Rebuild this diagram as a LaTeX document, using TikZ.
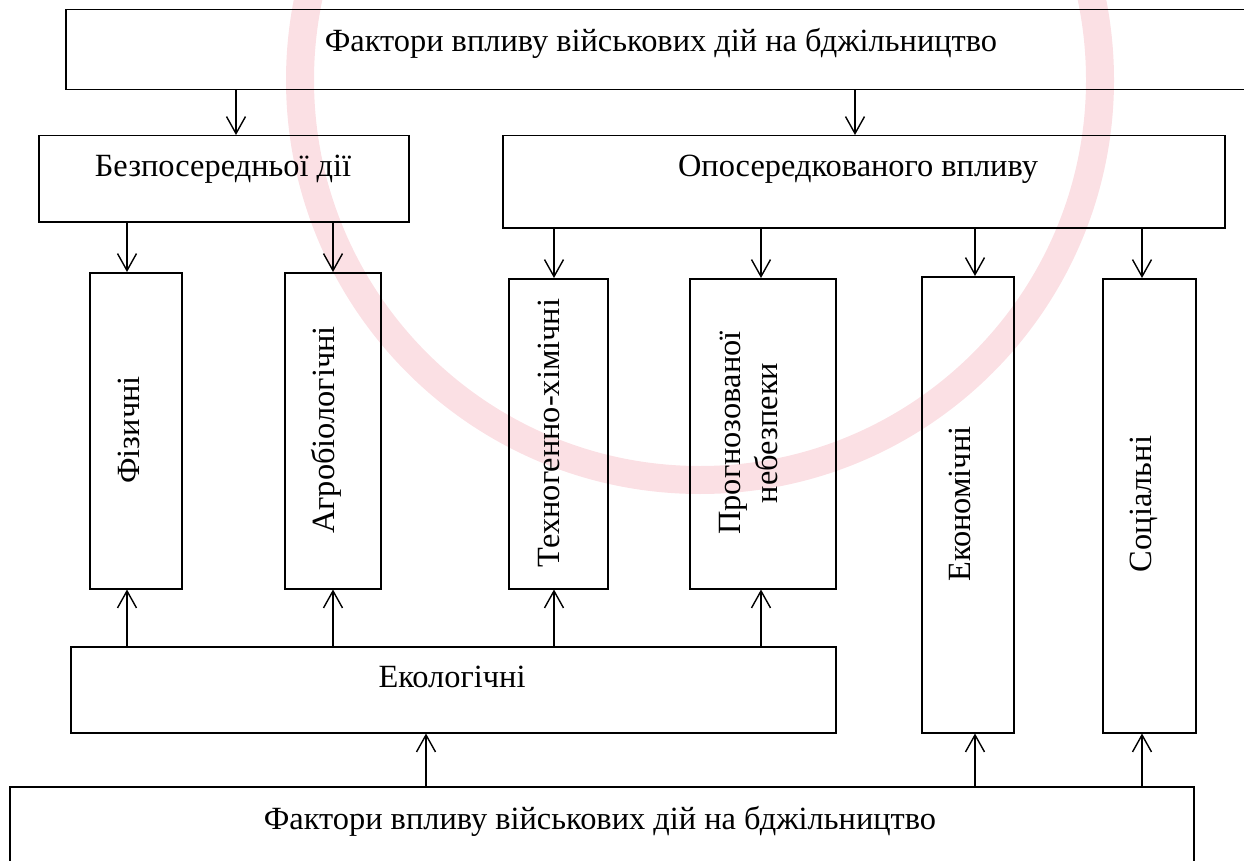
\documentclass[tikz,border=0pt]{standalone}
\usepackage{fontspec}
\setmainfont{Liberation Serif}
\usetikzlibrary{arrows.meta}
\definecolor{wmpink}{RGB}{251,224,228}
\begin{document}
\begin{tikzpicture}[x=1pt,y=-1pt,
  box/.style={draw, line width=1.5pt, inner sep=0pt, anchor=north west},
  lbl/.style={font=\fontsize{32.4}{38}\selectfont, inner sep=0pt, anchor=base},
  vlbl/.style={lbl, rotate=90},
  arr/.style={-{Straight Barb[length=17pt,width=19pt]}, line width=1.4pt},
  wm/.style={draw=wmpink, line width=28pt}]
\useasboundingbox (0,0) rectangle (1244,861);
\clip (0,0) rectangle (1244,861);
% faint watermark ring
\draw[wm] (700,80) circle[radius=400];
% boxes
\node[box, minimum width=1192pt, minimum height=80pt] (top) at (65,9) {};
\node[box, minimum width=370pt, minimum height=86pt] (bez) at (38,135) {};
\node[box, minimum width=722pt, minimum height=92pt] (opos) at (502,135) {};
\node[box, minimum width=92pt, minimum height=316pt] (fiz) at (89,272) {};
\node[box, minimum width=96pt, minimum height=316pt] (agro) at (284,272) {};
\node[box, minimum width=99pt, minimum height=310pt] (tech) at (508,278) {};
\node[box, minimum width=146pt, minimum height=310pt] (prog) at (689,278) {};
\node[box, minimum width=92pt, minimum height=456pt] (econ) at (921,276) {};
\node[box, minimum width=93pt, minimum height=454pt] (soc) at (1102,278) {};
\node[box, minimum width=765pt, minimum height=86pt] (eco) at (70,646) {};
\node[box, minimum width=1184pt, minimum height=90pt] (bot) at (9,786) {};
% labels
\node[lbl] (ttop) at (661,52) {Фактори впливу військових дій на бджільництво};
\node[lbl] (tbez) at (223,177) {Безпосередньої дії};
\node[lbl] (topos) at (858,177) {Опосередкованого впливу};
\node[lbl] (teco) at (452,687) {Екологічні};
\node[lbl] (tbot) at (600,829) {Фактори впливу військових дій на бджільництво};
\node[vlbl] (tfiz) at (139,430) {Фізичні};
\node[vlbl] (tagro) at (334,430) {Агробіологічні};
\node[vlbl] (ttech) at (559,433) {Техногенно-хімічні};
\node[vlbl] (tprog1) at (740,433) {Прогнозованої};
\node[vlbl] (tprog2) at (777,433) {небезпеки};
\node[vlbl] (tecon) at (970,504) {Економічні};
\node[vlbl] (tsoc) at (1151,504) {Соціальні};
% arrow columns
\coordinate (c1) at (236,0);
\coordinate (c2) at (855,0);
\coordinate (c3) at (127,0);
\coordinate (c4) at (333,0);
\coordinate (c5) at (554,0);
\coordinate (c6) at (761,0);
\coordinate (c7) at (975,0);
\coordinate (c8) at (1142,0);
\coordinate (c9) at (426,0);
% arrows
\draw[arr] (top.south -| c1) -- (bez.north -| c1);
\draw[arr] (top.south -| c2) -- (opos.north -| c2);
\draw[arr] (bez.south -| c3) -- (fiz.north -| c3);
\draw[arr] (bez.south -| c4) -- (agro.north -| c4);
\draw[arr] (opos.south -| c5) -- (tech.north -| c5);
\draw[arr] (opos.south -| c6) -- (prog.north -| c6);
\draw[arr] (opos.south -| c7) -- (econ.north -| c7);
\draw[arr] (opos.south -| c8) -- (soc.north -| c8);
\draw[arr] (eco.north -| c3) -- (fiz.south -| c3);
\draw[arr] (eco.north -| c4) -- (agro.south -| c4);
\draw[arr] (eco.north -| c5) -- (tech.south -| c5);
\draw[arr] (eco.north -| c6) -- (prog.south -| c6);
\draw[arr] (bot.north -| c9) -- (eco.south -| c9);
\draw[arr] (bot.north -| c7) -- (econ.south -| c7);
\draw[arr] (bot.north -| c8) -- (soc.south -| c8);
\end{tikzpicture}
\end{document}
